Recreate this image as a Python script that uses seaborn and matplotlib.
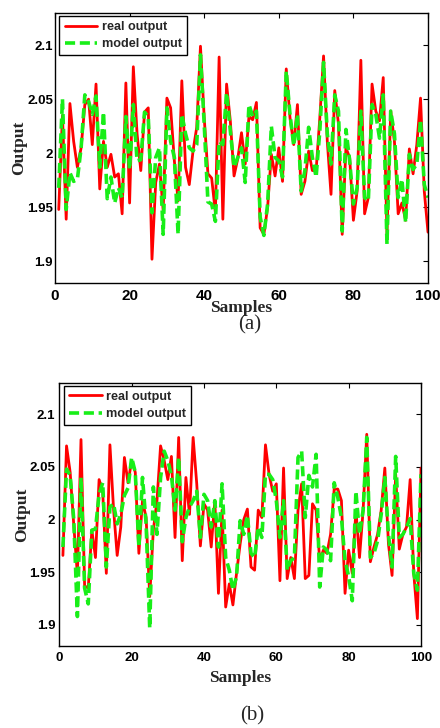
import numpy as np
import pandas as pd
import matplotlib
matplotlib.use("Agg")
import matplotlib.pyplot as plt
import seaborn as sns

samples = list(range(1, 101))

real_a = [1.948, 2.035, 1.939, 2.046, 2.011, 1.987, 2.005, 2.045, 2.050, 2.008,
          2.064, 1.967, 2.011, 1.987, 1.999, 1.978, 1.981, 1.944, 2.065, 1.954,
          2.080, 2.018, 1.984, 2.038, 2.042, 1.902, 1.973, 1.990, 1.947, 2.051,
          2.042, 1.993, 1.956, 2.067, 1.987, 1.971, 2.002, 2.024, 2.099, 2.033,
          1.981, 1.977, 1.945, 2.089, 1.939, 2.064, 2.030, 1.979, 1.995, 2.019,
          1.990, 2.034, 2.031, 2.047, 1.931, 1.925, 1.950, 1.999, 1.979, 2.005,
          1.974, 2.078, 2.033, 2.008, 2.045, 1.962, 1.974, 2.002, 1.984, 1.984,
          2.033, 2.090, 2.011, 1.962, 2.058, 2.027, 1.925, 2.005, 1.996, 1.938,
          1.965, 2.086, 1.944, 1.959, 2.064, 2.039, 2.030, 2.070, 1.925, 2.039,
          2.011, 1.944, 1.954, 1.938, 2.004, 1.981, 2.008, 2.051, 1.965, 1.927]
model_a = [1.968, 2.050, 1.948, 1.982, 1.974, 1.976, 2.005, 2.054, 2.048, 2.036,
           2.053, 1.987, 2.038, 1.958, 1.978, 1.954, 1.968, 1.959, 2.034, 1.985,
           2.045, 1.993, 1.994, 2.038, 2.034, 1.945, 1.996, 2.005, 1.925, 2.042,
           2.011, 1.996, 1.925, 2.036, 2.018, 2.005, 2.002, 2.008, 2.091, 2.027,
           1.955, 1.953, 1.937, 2.011, 2.008, 2.056, 2.021, 1.987, 1.996, 2.005,
           1.973, 2.045, 2.034, 2.039, 1.941, 1.924, 1.953, 2.025, 1.996, 1.993,
           1.978, 2.076, 2.036, 2.007, 2.036, 1.965, 1.984, 2.024, 1.996, 1.978,
           2.021, 2.084, 2.018, 1.990, 2.054, 2.039, 1.928, 2.022, 1.993, 1.953,
           1.968, 2.039, 1.959, 1.956, 2.045, 2.036, 2.014, 2.054, 1.916, 2.039,
           2.018, 1.959, 1.976, 1.936, 1.999, 1.985, 1.990, 2.031, 1.971, 1.959]

real_b = [1.966, 2.070, 2.045, 1.995, 1.948, 2.076, 1.937, 1.935, 1.990, 1.964,
          2.038, 2.027, 1.949, 2.071, 2.010, 1.966, 1.993, 2.059, 2.035, 2.056,
          2.045, 1.968, 2.018, 2.002, 1.927, 1.990, 2.018, 2.070, 2.056, 2.038,
          2.060, 1.983, 2.078, 1.961, 2.040, 2.005, 2.078, 2.034, 1.975, 2.015,
          2.009, 1.974, 2.018, 1.930, 2.009, 1.917, 1.939, 1.919, 1.949, 1.977,
          2.000, 2.010, 1.955, 1.952, 2.009, 2.002, 2.071, 2.043, 2.027, 2.034,
          1.942, 2.049, 1.944, 1.964, 1.944, 2.009, 2.034, 1.944, 1.947, 2.015,
          2.009, 1.961, 1.971, 1.968, 1.986, 2.029, 2.029, 2.018, 1.930, 1.971,
          1.949, 2.009, 1.964, 2.009, 2.081, 1.960, 1.974, 1.986, 2.009, 2.049,
          1.977, 1.947, 2.043, 1.972, 1.986, 1.993, 2.038, 1.949, 1.906, 2.049]
model_b = [1.974, 2.048, 2.042, 2.000, 1.908, 2.040, 1.935, 1.920, 1.990, 1.991,
           2.024, 2.035, 1.955, 2.012, 2.015, 1.996, 2.005, 2.023, 2.030, 2.059,
           2.045, 1.974, 2.040, 1.996, 1.897, 2.031, 1.986, 2.040, 2.065, 2.056,
           2.042, 2.009, 2.059, 1.979, 2.002, 2.012, 2.018, 2.027, 1.983, 2.024,
           2.018, 1.993, 2.018, 1.974, 2.034, 1.964, 1.952, 1.933, 1.946, 1.999,
           1.986, 2.004, 1.968, 1.964, 1.993, 1.983, 2.043, 2.043, 2.038, 2.018,
           1.983, 2.018, 1.952, 1.961, 1.964, 2.059, 2.065, 2.002, 2.042, 2.031,
           2.062, 1.936, 1.974, 1.971, 1.961, 2.035, 2.021, 2.002, 1.961, 1.946,
           1.923, 2.027, 1.986, 2.009, 2.078, 1.964, 1.968, 1.980, 2.005, 2.040,
           1.986, 1.955, 2.060, 1.983, 1.986, 1.993, 2.001, 1.949, 1.933, 2.043]

x_ticks = [0, 20, 40, 60, 80, 100]
y_ticks = [1.9, 1.95, 2.0, 2.05, 2.1]
y_tick_labels = ["1.9", "1.95", "2", "2.05", "2.1"]
series_names = ["real output", "model output"]
panel_labels = ["(a)", "(b)"]

sns.set_style("white")
plt.rcParams['font.family'] = ['Liberation Sans', 'DejaVu Sans']

W, H = 440, 728
fig = plt.figure(figsize=(4.4, 7.28), dpi=100)

def px_axes(l, t, r, b):
    return fig.add_axes([l / W, 1 - b / H, (r - l) / W, (b - t) / H])

ax1 = px_axes(55, 12.7, 428, 283)
ax2 = px_axes(59.3, 382.7, 421, 646)

RED = "#ff0000"
GREEN = "#18ee18"

def draw(ax, real, model, xtick_size, xlab_y, ylab_x, pad_y, pad_x):
    df = pd.DataFrame({"Samples": samples, "real": real, "model": model})
    sns.lineplot(data=df, x="Samples", y="real", ax=ax, color=RED, lw=2.0,
                 label=series_names[0])
    sns.lineplot(data=df, x="Samples", y="model", ax=ax, color=GREEN, lw=2.6,
                 linestyle=(0, (2.8, 1.3)), label=series_names[1])
    ax.set_xlim(0, 100)
    ax.set_ylim(1.88, 2.13)
    ax.set_xticks(x_ticks)
    ax.set_yticks(y_ticks)
    ax.set_yticklabels(y_tick_labels)
    ax.tick_params(direction="in", length=3.5, width=0.8, top=True, right=True,
                   colors="black")
    ax.tick_params(axis="x", labelsize=xtick_size, pad=pad_x)
    ax.tick_params(axis="y", labelsize=9.5, pad=pad_y)
    for lab in ax.get_xticklabels() + ax.get_yticklabels():
        lab.set_fontweight("bold")
    for s in ax.spines.values():
        s.set_color("black")
        s.set_linewidth(1.0)
    ax.set_xlabel("Samples", family=["Liberation Serif"], fontweight="bold",
                  fontsize=12.5)
    ax.set_ylabel("Output", family=["Liberation Serif"], fontweight="bold",
                  fontsize=12.5)
    ax.xaxis.set_label_coords(0.5, xlab_y)
    ax.yaxis.set_label_coords(ylab_x, 0.5)
    leg = ax.legend(loc="upper left", bbox_to_anchor=(0.012, 0.988),
                    borderaxespad=0, fancybox=False, frameon=True,
                    edgecolor="black", handlelength=2.6, handletextpad=0.35,
                    labelspacing=0.4, borderpad=0.4,
                    prop={"weight": "bold", "size": 9.1})
    leg.get_frame().set_linewidth(1.0)
    leg.get_frame().set_alpha(1)

draw(ax1, real_a, model_a, 11, -0.062, -0.075, 1.5, 4)
draw(ax2, real_b, model_b, 9.5, -0.09, -0.08, 3, 4)

fig.text(250 / W, 1 - 325 / H, panel_labels[0], family=["Liberation Serif"],
         fontsize=15, ha="center", va="center")
fig.text(252 / W, 1 - 716 / H, panel_labels[1], family=["Liberation Serif"],
         fontsize=15, ha="center", va="center")

fig.savefig("out.png", dpi=100, facecolor="white")
